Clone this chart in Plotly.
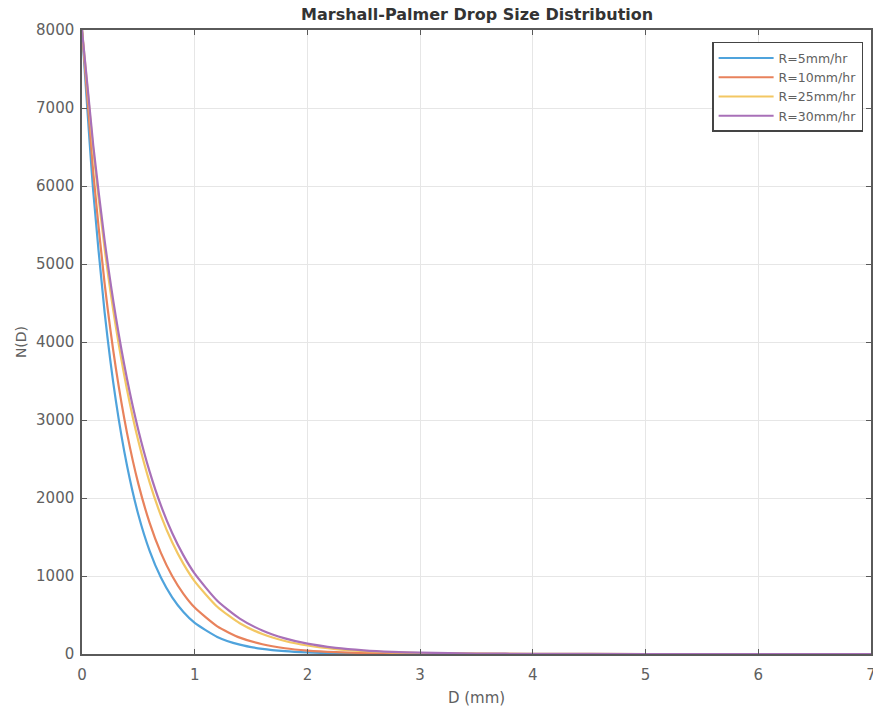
import plotly.graph_objects as go

# Drop diameter (mm)
D = [0, 0.1, 0.2, 0.3, 0.4, 0.5, 0.6, 0.7, 0.8, 0.9, 1.0, 1.2, 1.4, 1.6, 1.8,
     2.0, 2.25, 2.5, 2.75, 3.0, 3.5, 4, 5, 6, 7]

# N(D) for each rain rate
N_R5 = [8000, 5927, 4390, 3252, 2410, 1785, 1322, 980, 726, 538, 398, 219, 120, 66, 36,
        20, 9, 4.4, 2, 1, 0.2, 0, 0, 0, 0]
N_R10 = [8000, 6169, 4757, 3668, 2829, 2181, 1682, 1297, 1000, 771, 595, 354, 210, 125, 74,
         44, 23, 12, 6.2, 3.3, 0.9, 0.2, 0, 0, 0]
N_R25 = [8000, 6452, 5203, 4197, 3385, 2730, 2201, 1775, 1432, 1155, 932, 606, 394, 256, 167,
         109, 63, 37, 22, 13, 4.3, 1.5, 0.2, 0, 0]
N_R30 = [8000, 6517, 5309, 4324, 3523, 2870, 2338, 1904, 1551, 1264, 1030, 683, 454, 301, 200,
         132, 79, 47, 28, 17, 6, 2.2, 0.3, 0, 0]

series_names = ["R=5mm/hr", "R=10mm/hr", "R=25mm/hr", "R=30mm/hr"]
series_vals = [N_R5, N_R10, N_R25, N_R30]
colors = ["#4fa3dc", "#e8825c", "#f3c763", "#a870b8"]

x_ticks = [0, 1, 2, 3, 4, 5, 6, 7]
y_ticks = [0, 1000, 2000, 3000, 4000, 5000, 6000, 7000, 8000]

fig = go.Figure()
for name, vals, c in zip(series_names, series_vals, colors):
    fig.add_trace(go.Scatter(x=D, y=vals, mode="lines", name=name,
                             line=dict(color=c, width=2.2, shape="spline", smoothing=0.6)))

axis_common = dict(
    showline=True, linecolor="#5a5a5a", linewidth=1.5, mirror="ticks",
    ticks="inside", ticklen=5, tickwidth=1.2, tickcolor="#5a5a5a",
    showgrid=True, gridcolor="#e6e6e6", gridwidth=1, zeroline=False,
    ticklabeloverflow="allow", automargin=False,
    tickfont=dict(family="DejaVu Sans", size=15, color="#606060"),
)

fig.update_layout(
    width=873, height=715,
    margin=dict(l=82, r=2, t=30, b=61),
    paper_bgcolor="white", plot_bgcolor="white",
    title=dict(text="<b>Marshall-Palmer Drop Size Distribution</b>",
               x=0.5465, xanchor="center", y=0.98, yanchor="middle",
               font=dict(family="DejaVu Sans", size=16, color="#333333")),
    xaxis=dict(range=[0, 7], tickvals=x_ticks, ticklabelstandoff=6,
               title=dict(text="D (mm)", standoff=10,
                          font=dict(family="DejaVu Sans", size=15, color="#606060")),
               **axis_common),
    yaxis=dict(range=[0, 8000], tickvals=y_ticks, ticklabelstandoff=3,
               title=dict(text="N(D)", standoff=6,
                          font=dict(family="DejaVu Sans", size=14, color="#606060")),
               **axis_common),
    legend=dict(x=0.99, y=0.981, xanchor="right", yanchor="top",
                bgcolor="white", bordercolor="#444444", borderwidth=1.5,
                itemwidth=55, tracegroupgap=0,
                font=dict(family="DejaVu Sans", size=12.5, color="#606060")),
)

fig.write_html("out.html")
